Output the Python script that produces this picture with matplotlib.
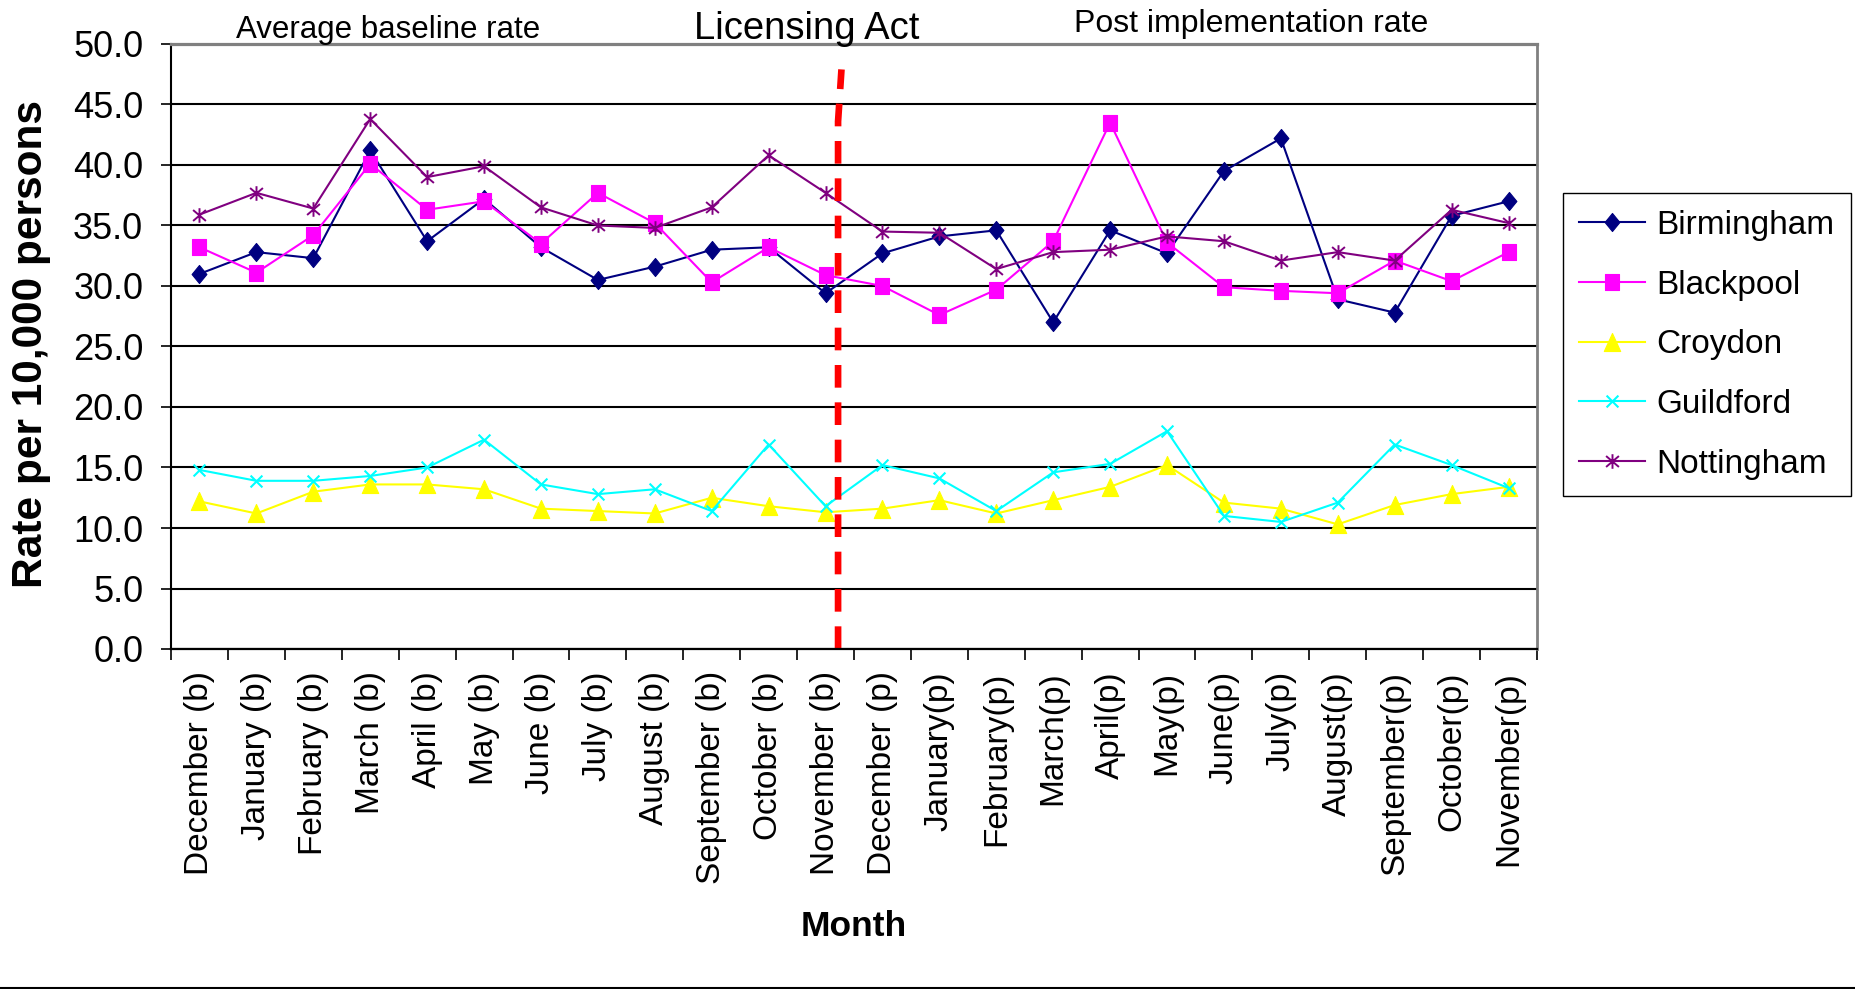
import matplotlib
matplotlib.use('Agg')
import matplotlib.pyplot as plt
from matplotlib.path import Path
from matplotlib.lines import Line2D
from matplotlib.ticker import FormatStrFormatter
import numpy as np

# ---------------- data ----------------
months = ["December (b)", "January (b)", "February (b)", "March (b)", "April (b)",
          "May (b)", "June (b)", "July (b)", "August (b)", "September (b)",
          "October (b)", "November (b)", "December (p)", "January(p)", "February(p)",
          "March(p)", "April(p)", "May(p)", "June(p)", "July(p)", "August(p)",
          "September(p)", "October(p)", "November(p)"]

birmingham = [31.0, 32.8, 32.3, 41.2, 33.7, 37.2, 33.2, 30.5, 31.6, 33.0, 33.2, 29.4,
              32.7, 34.1, 34.6, 27.0, 34.6, 32.7, 39.5, 42.2, 28.9, 27.8, 35.8, 37.0]
blackpool = [33.2, 31.1, 34.2, 40.1, 36.3, 37.0, 33.5, 37.7, 35.2, 30.3, 33.2, 30.9,
             30.0, 27.6, 29.7, 33.7, 43.5, 33.6, 29.9, 29.6, 29.4, 32.1, 30.4, 32.8]
croydon = [12.2, 11.2, 13.0, 13.6, 13.6, 13.2, 11.6, 11.4, 11.2, 12.5, 11.8, 11.3,
           11.6, 12.3, 11.2, 12.3, 13.4, 15.2, 12.1, 11.6, 10.3, 11.9, 12.8, 13.4]
guildford = [14.8, 13.9, 13.9, 14.3, 15.0, 17.3, 13.6, 12.8, 13.2, 11.4, 16.9, 11.8,
             15.2, 14.1, 11.4, 14.6, 15.3, 18.0, 11.0, 10.5, 12.1, 16.9, 15.2, 13.3]
nottingham = [35.9, 37.7, 36.4, 43.8, 39.0, 39.9, 36.5, 35.0, 34.8, 36.5, 40.8, 37.7,
              34.5, 34.4, 31.4, 32.8, 33.0, 34.1, 33.7, 32.1, 32.8, 32.1, 36.3, 35.2]

series_names = ["Birmingham", "Blackpool", "Croydon", "Guildford", "Nottingham"]
series_values = [birmingham, blackpool, croydon, guildford, nottingham]

yticks = [0, 5, 10, 15, 20, 25, 30, 35, 40, 45, 50]

# ---------------- style ----------------
plt.rcParams['font.family'] = ['Liberation Sans', 'DejaVu Sans']

M, L, C = Path.MOVETO, Path.LINETO, Path.CLOSEPOLY
diamond = Path([(0, 1), (0.82, 0), (0, -1), (-0.82, 0), (0, 1)], [M, L, L, L, C])
square = Path([(-0.86, -1), (0.86, -1), (0.86, 1), (-0.86, 1), (-0.86, -1)], [M, L, L, L, C])
triangle = Path([(0, 1), (-0.91, -1), (0.91, -1), (0, 1)], [M, L, L, C])
xmark = Path([(-1, -1), (1, 1), (-1, 1), (1, -1)], [M, L, M, L])
asterisk = Path([(0, -1), (0, 1), (-0.88, -0.75), (0.88, 0.75), (-0.88, 0.75), (0.88, -0.75)],
                [M, L, M, L, M, L])

styles = [
    dict(color='#000080', marker=diamond, ms=13, mfc='#000080', mec='#000080', mew=0.8),
    dict(color='#FF00FF', marker=square, ms=12, mfc='#FF00FF', mec='#FF00FF', mew=0.8),
    dict(color='#FFFF00', marker=triangle, ms=13, mfc='#FFFF00', mec='#FFFF00', mew=0.8),
    dict(color='#00FFFF', marker=xmark, ms=8.5, mfc='none', mec='#00FFFF', mew=1.5),
    dict(color='#800080', marker=asterisk, ms=10.5, mfc='none', mec='#800080', mew=1.4),
]

W, H = 1856, 989
fig = plt.figure(figsize=(W / 100, H / 100), dpi=100)
ax = fig.add_axes([171 / W, 1 - 649 / H, (1537 - 171) / W, 605 / H])

x = np.arange(len(months))
for name, vals, st in zip(series_names, series_values, styles):
    ax.plot(x, vals, label=name, lw=1.5, **st)

# Licensing Act divider
act_x = 11.22
ax.plot([act_x, act_x, act_x + 0.06], [0, 43.6, 47.9], color='#FF0000', lw=4.8,
        dashes=(3.4, 2.2), dash_capstyle='butt', zorder=6)

ax.set_xlim(-0.5, len(months) - 0.5)
ax.set_ylim(0, 50)
ax.set_yticks(yticks)
ax.yaxis.set_major_formatter(FormatStrFormatter('%.1f'))
ax.set_xticks(x)
ax.set_xticklabels(months, rotation=90, fontsize=24)
ax.set_xticks(np.arange(-0.5, len(months), 1), minor=True)
ax.tick_params(axis='x', which='major', length=0, pad=16)
ax.tick_params(axis='x', which='minor', length=8, width=1.2, direction='out', color='black')
ax.tick_params(axis='y', which='major', length=7, width=1.2, direction='out', pad=13,
               labelsize=26)

ax.set_axisbelow(True)
ax.yaxis.grid(True, color='black', lw=1.5)
ax.spines['left'].set_linewidth(1.5)
ax.spines['bottom'].set_linewidth(1.6)
ax.spines['top'].set_color('#808080')
ax.spines['top'].set_linewidth(2.3)
ax.spines['right'].set_color('#808080')
ax.spines['right'].set_linewidth(2.0)
for s in ax.spines.values():
    s.set_zorder(7)

# Texts
fig.text(31 / W, 1 - 344 / H, "Rate per 10,000 persons", rotation=90, ha='center',
         va='center', fontsize=30.5, fontweight='bold')
fig.text(854 / W, 1 - 927 / H, "Month", ha='center', va='center', fontsize=25.5,
         fontweight='bold')
fig.text(388.5 / W, 1 - 38 / H, "Average baseline rate", ha='center', va='baseline',
         fontsize=22.5)
fig.text(806.5 / W, 1 - 39 / H, "Licensing Act", ha='center', va='baseline', fontsize=27.5)
fig.text(1251.5 / W, 1 - 32 / H, "Post implementation rate", ha='center', va='baseline',
         fontsize=23)

leg = ax.legend(loc='upper left', bbox_to_anchor=(1562.7 / W, 1 - 193.3 / H),
                bbox_transform=fig.transFigure, borderaxespad=0, fontsize=24,
                frameon=True, fancybox=False, edgecolor='black', framealpha=1,
                handlelength=1.97, handletextpad=0.33, labelspacing=0.86, borderpad=0.5)
leg.get_frame().set_linewidth(1.0)

fig.add_artist(Line2D([0, 1], [1.5 / H, 1.5 / H], transform=fig.transFigure,
                      color='black', lw=1.5))

fig.savefig('out.png', dpi=100)
